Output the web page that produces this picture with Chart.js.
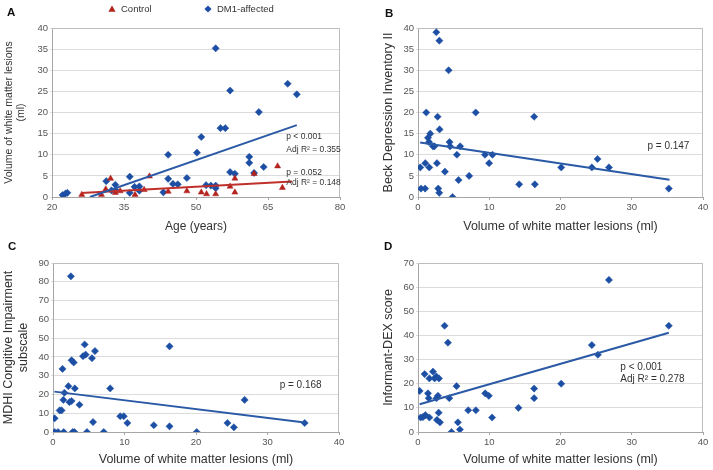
<!DOCTYPE html>
<html>
<head>
<meta charset="utf-8">
<script src="https://cdn.jsdelivr.net/npm/chart.js@4.4.1/dist/chart.umd.min.js"></script>
<style>
  html, body { margin: 0; padding: 0; background: #fff; }
  #fig { position: relative; width: 713px; height: 470px; }
  #fig canvas { position: absolute; }
</style>
</head>
<body>
<div id="fig">
  <canvas id="panelA" width="356" height="235" style="left:0;top:0"></canvas>
  <canvas id="panelB" width="357" height="235" style="left:356px;top:0"></canvas>
  <canvas id="panelC" width="356" height="235" style="left:0;top:235px"></canvas>
  <canvas id="panelD" width="357" height="235" style="left:356px;top:235px"></canvas>
</div>
<script>
// --- values ---

// A: age vs lesion volume
const ageControl = [26.2, 30.3, 31.2, 32.2, 33.2, 34.2, 37.3, 39.2, 40.3, 44.2, 48.1, 51.1, 52.2, 54.1, 57.1, 58.1, 58.1, 62.1, 67.0, 68.0];
const volControl = [0.55, 0.55, 1.85, 4.35, 1.0, 1.4, 0.55, 1.7, 4.9, 1.3, 1.4, 1.1, 0.7, 0.7, 2.5, 4.4, 1.1, 5.5, 7.3, 2.2];
const ageDM1 = [22.2, 22.8, 23.2, 31.3, 32.4, 33.2, 33.3, 36.2, 36.2, 37.2, 38.2, 38.2, 43.2, 44.2, 44.2, 45.2, 46.2, 48.1, 50.2, 51.1,
  52.1, 53.1, 54.1, 54.1, 54.1, 55.1, 56.1, 57.1, 57.1, 58.1, 61.1, 61.1, 62.1, 63.1, 64.1, 69.1, 71.0];
const volDM1 = [0.45, 0.8, 1.0, 3.75, 1.55, 2.9, 1.6, 4.8, 1.0, 2.4, 2.5, 1.5, 1.1, 4.3, 10.0, 3.1, 3.0, 4.5, 10.5, 14.2,
  2.8, 2.7, 2.7, 35.2, 2.1, 16.3, 16.3, 25.2, 5.9, 5.5, 9.5, 8.1, 5.7, 20.1, 7.1, 26.8, 24.3];
const fitAgeControl = [26.1, 70.0];
const fitVolControl = [0.95, 3.64];
const fitAgeDM1 = [27.9, 71.0];
const fitVolDM1 = [0.0, 17.0];

// B: lesion volume vs BDI-II
const volB = [0.32, 0.42, 1.0, 1.02, 1.16, 1.4, 1.72, 1.55, 1.58, 2.1, 2.3, 2.57, 2.66, 2.75, 2.84, 3.0, 2.98, 3.03, 3.78, 4.3,
  4.43, 4.5, 4.85, 5.46, 5.69, 5.92, 7.18, 8.1, 9.4, 9.98, 10.45, 14.2, 16.3, 16.4, 20.1, 24.4, 25.2, 26.8, 35.2];
const bdi = [7, 2, 2, 8, 20, 14, 15, 13, 7, 12, 12, 39, 8, 19, 2, 37, 1, 16, 6, 30,
  13, 12, 0, 10, 4, 12, 5, 20, 10, 8, 10, 3, 19, 3, 7, 7, 9, 7, 2];
const fitVolB = [0.3, 35.3];
const fitBdi = [12.9, 4.1];

// C: lesion volume vs MDHI cognitive impairment
const volC = [0.23, 0.23, 0.7, 0.93, 1.2, 1.33, 1.5, 1.45, 1.6, 2.15, 2.3, 2.5, 2.6, 2.6, 2.75, 2.9, 3.0, 3.05, 3.7, 4.2,
  4.43, 4.57, 4.75, 5.45, 5.6, 5.87, 7.1, 8.0, 9.4, 9.9, 10.4, 14.1, 16.3, 16.3, 20.1, 24.4, 25.3, 26.8, 35.2];
const mdhi = [7.3, 0, 0, 11.5, 11.5, 33.6, 0, 17.1, 20.9, 24.4, 15.9, 82.9, 16.5, 38.2, 0, 37.0, 0, 23.2, 14.5, 40.4,
  46.6, 41.2, 0, 39.3, 5.3, 43.1, 0, 23.2, 8.4, 8.4, 4.8, 3.6, 45.6, 3.0, 0, 4.8, 2.5, 17.1, 4.8];
const fitVolC = [0.2, 35.2];
const fitMdhi = [21.5, 5.0];

// D: lesion volume vs informant DEX
const volD = [0.23, 0.37, 0.7, 0.93, 1.03, 1.4, 1.5, 1.6, 1.6, 2.1, 2.33, 2.57, 2.6, 2.66, 2.8, 2.9, 2.94, 3.08, 3.73, 4.2,
  4.39, 4.7, 5.41, 5.6, 5.88, 7.05, 8.12, 9.43, 9.94, 10.4, 14.1, 16.3, 16.3, 20.1, 24.4, 25.25, 26.8, 35.2];
const dex = [17, 6, 6.2, 24, 7, 16, 14, 22.2, 6, 25, 22.2, 23, 14, 5, 15, 8, 22.2, 4, 44, 37,
  14, 0, 19, 4, 1, 9, 9, 16, 15, 6, 10, 14, 18, 20, 36, 32, 63, 44];
const fitVolD = [0.23, 35.2];
const fitDex = [11.5, 41.1];

// --- styling ---
const FONT = '"Liberation Sans", Arial, Helvetica, sans-serif';
const BLUE = '#1c4fa3';
const BLUE_LINE = '#2a5aa6';
const RED = '#b5231f';
const RED_LINE = '#c0302b';

Chart.defaults.font.family = FONT;
Chart.defaults.color = '#555';

function pts(xs, ys) {
  return xs.map((x, i) => ({ x: x, y: ys[i] }));
}

function scatterSet(label, xs, ys, color, style, r) {
  return {
    label: label, data: pts(xs, ys), showLine: false,
    pointStyle: style, pointRadius: r,
    pointBackgroundColor: color, pointBorderColor: color, pointBorderWidth: 0.5
  };
}

function trendSet(xs, ys, color) {
  return {
    label: 'trend', data: pts(xs, ys), showLine: true, tension: 0,
    borderColor: color, borderWidth: 2, pointRadius: 0, fill: false
  };
}

// frame, panel letter, p-value notes and (for A) the legend
const decor = {
  id: 'decor',
  beforeDatasetsDraw(chart) {
    const { ctx, chartArea: a } = chart;
    ctx.save();
    ctx.strokeStyle = '#bdbdbd';
    ctx.lineWidth = 1;
    ctx.beginPath();
    ctx.moveTo(a.left, Math.round(a.top) + 0.5);
    ctx.lineTo(Math.round(a.right) - 0.5, Math.round(a.top) + 0.5);
    ctx.lineTo(Math.round(a.right) - 0.5, a.bottom);
    ctx.stroke();
    ctx.restore();
  },
  afterDraw(chart, args, opts) {
    const { ctx } = chart;
    const xs = chart.scales.x, ys = chart.scales.y;
    ctx.save();
    ctx.fillStyle = '#111';
    ctx.font = 'bold 11.5px ' + FONT;
    ctx.textBaseline = 'alphabetic';
    ctx.textAlign = 'left';
    ctx.fillText(opts.letter, opts.letterAt[0], opts.letterAt[1]);

    ctx.fillStyle = '#333';
    ctx.font = opts.noteSize + 'px ' + FONT;
    ctx.textBaseline = 'middle';
    (opts.notes || []).forEach(n => {
      ctx.fillText(n.text, xs.getPixelForValue(n.x), ys.getPixelForValue(n.y));
    });

    (opts.legend || []).forEach(item => {
      const ds = chart.data.datasets[item.dataset];
      const r = 3.6;
      ctx.fillStyle = ds.pointBackgroundColor;
      ctx.beginPath();
      if (ds.pointStyle === 'triangle') {
        ctx.moveTo(item.x, item.y - r);
        ctx.lineTo(item.x + r, item.y + r * 0.75);
        ctx.lineTo(item.x - r, item.y + r * 0.75);
      } else {
        ctx.moveTo(item.x, item.y - r);
        ctx.lineTo(item.x + r, item.y);
        ctx.lineTo(item.x, item.y + r);
        ctx.lineTo(item.x - r, item.y);
      }
      ctx.closePath();
      ctx.fill();
      ctx.fillStyle = '#333';
      ctx.font = '9.5px ' + FONT;
      ctx.fillText(ds.label, item.tx, item.y + 0.5);
    });
    ctx.restore();
  }
};

function panel(id, cfg) {
  return new Chart(document.getElementById(id), {
    type: 'scatter',
    data: { datasets: cfg.datasets },
    options: {
      responsive: false,
      animation: false,
      devicePixelRatio: 1,
      events: [],
      layout: { padding: { left: 0, top: 28, right: cfg.padRight, bottom: 0 } },
      plugins: {
        legend: { display: false },
        tooltip: { enabled: false },
        decor: cfg.decor
      },
      scales: {
        x: {
          type: 'linear', min: cfg.xRange[0], max: cfg.xRange[1],
          afterFit: s => { s.height = 38; },
          ticks: { stepSize: cfg.xStep, font: { size: 9.5 }, padding: 2, color: '#555' },
          grid: { drawOnChartArea: false, tickLength: 3, color: '#a6a6a6' },
          border: { color: '#a6a6a6' },
          title: {
            display: true, text: cfg.xTitle, color: '#333',
            font: { size: cfg.xTitleSize }, padding: { top: 0, bottom: cfg.xTitlePad }
          }
        },
        y: {
          type: 'linear', min: cfg.yRange[0], max: cfg.yRange[1],
          afterFit: s => { s.width = cfg.yWidth; },
          ticks: { stepSize: cfg.yStep, font: { size: 9.5 }, padding: 2, color: '#555' },
          grid: { color: '#dcdcdc', tickLength: 2 },
          border: { color: '#a6a6a6' },
          title: {
            display: true, text: cfg.yTitle, color: '#333',
            font: { size: cfg.yTitleSize, lineHeight: 1.15 }, padding: { top: cfg.yTitlePad, bottom: 0 }
          }
        }
      }
    },
    plugins: [decor]
  });
}

panel('panelA', {
  datasets: [
    trendSet(fitAgeDM1, fitVolDM1, BLUE_LINE),
    trendSet(fitAgeControl, fitVolControl, RED_LINE),
    scatterSet('Control', ageControl, volControl, RED, 'triangle', 3.5),
    scatterSet('DM1-affected', ageDM1, volDM1, BLUE, 'rectRot', 3.6)
  ],
  padRight: 16, yWidth: 52,
  xRange: [20, 80], xStep: 15, yRange: [0, 40], yStep: 5,
  xTitle: 'Age (years)', xTitleSize: 12, xTitlePad: 1.1,
  yTitle: ['Volume of white matter lesions', '(ml)'], yTitleSize: 10.5, yTitlePad: 3,
  decor: {
    letter: 'A', letterAt: [7, 16], noteSize: 8.5,
    notes: [
      { x: 68.8, y: 14.2, text: 'p < 0.001' },
      { x: 68.8, y: 11.2, text: 'Adj R² = 0.355' },
      { x: 68.8, y: 5.8, text: 'p = 0.052' },
      { x: 68.8, y: 3.3, text: 'Adj R² = 0.148' }
    ],
    legend: [
      { dataset: 2, x: 112, y: 9, tx: 121 },
      { dataset: 3, x: 208, y: 9, tx: 217 }
    ]
  }
});

panel('panelB', {
  datasets: [
    trendSet(fitVolB, fitBdi, BLUE_LINE),
    scatterSet('DM1-affected', volB, bdi, BLUE, 'rectRot', 3.6)
  ],
  padRight: 10, yWidth: 62,
  xRange: [0, 40], xStep: 10, yRange: [0, 40], yStep: 5,
  xTitle: 'Volume of white matter lesions (ml)', xTitleSize: 12.5, xTitlePad: 0.8,
  yTitle: 'Beck Depression Inventory II', yTitleSize: 12.5, yTitlePad: 25,
  decor: {
    letter: 'B', letterAt: [29, 16.5], noteSize: 10,
    notes: [{ x: 32.2, y: 12.1, text: 'p = 0.147' }]
  }
});

panel('panelC', {
  datasets: [
    trendSet(fitVolC, fitMdhi, BLUE_LINE),
    scatterSet('DM1-affected', volC, mdhi, BLUE, 'rectRot', 3.6)
  ],
  padRight: 17, yWidth: 53,
  xRange: [0, 40], xStep: 10, yRange: [0, 90], yStep: 10,
  xTitle: 'Volume of white matter lesions (ml)', xTitleSize: 12.5, xTitlePad: 2.5,
  yTitle: ['MDHI Congitive Impairment', 'subscale'], yTitleSize: 12.5, yTitlePad: 1.8,
  decor: {
    letter: 'C', letterAt: [8, 15], noteSize: 10,
    notes: [{ x: 31.7, y: 25.1, text: 'p = 0.168' }]
  }
});

panel('panelD', {
  datasets: [
    trendSet(fitVolD, fitDex, BLUE_LINE),
    scatterSet('DM1-affected', volD, dex, BLUE, 'rectRot', 3.6)
  ],
  padRight: 10, yWidth: 62,
  xRange: [0, 40], xStep: 10, yRange: [0, 70], yStep: 10,
  xTitle: 'Volume of white matter lesions (ml)', xTitleSize: 12.5, xTitlePad: 2.5,
  yTitle: 'Informant-DEX score', yTitleSize: 12.5, yTitlePad: 25,
  decor: {
    letter: 'D', letterAt: [28, 15], noteSize: 10,
    notes: [
      { x: 28.4, y: 27.0, text: 'p < 0.001' },
      { x: 28.4, y: 21.9, text: 'Adj R² = 0.278' }
    ]
  }
});
</script>
</body>
</html>
